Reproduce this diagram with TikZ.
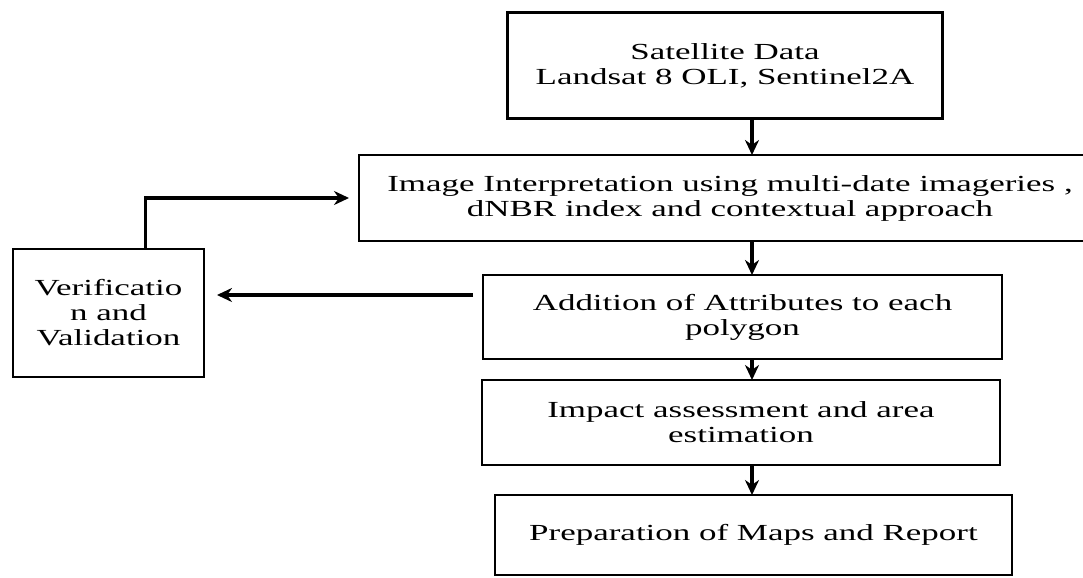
\documentclass[tikz,border=0pt]{standalone}
\usepackage{fontspec}
\setmainfont[FakeStretch=1.52]{Liberation Serif}
\usetikzlibrary{arrows.meta}
\begin{document}
\begin{tikzpicture}[x=0.5pt,y=-0.5pt,
		box/.style={draw,line width=1.3pt,align=center,inner sep=0pt,outer sep=0pt,font=\fontsize{11.5}{12.5}\selectfont},
		link/.style={line width=1.6pt,->},>={Stealth[length=7.5pt,width=7pt]}]
				\useasboundingbox (0,0) rectangle (1083,578);
				\node[box,minimum width=217.5pt,minimum height=53pt] (sat) at (725,65.5) {Satellite Data\\Landsat 8 OLI, Sentinel2A};
				\node[box,minimum width=371pt,minimum height=43pt] (interp) at (730,198) {Image Interpretation using multi-date imageries ,\\dNBR index and contextual approach};
				\node[box,minimum width=95.5pt,minimum height=64pt] (verif) at (108.5,313) {Verificatio\\n and\\Validation};
				\node[box,minimum width=259.5pt,minimum height=42pt] (addattr) at (742.5,317) {Addition of Attributes to each\\polygon};
				\node[box,minimum width=259pt,minimum height=42.5pt] (impact) at (741,422.5) {Impact assessment and area\\estimation};
				\node[box,minimum width=258.5pt,minimum height=40pt] (prep) at (753.5,535) {Preparation of Maps and Report};
				\coordinate (spine) at (752,0);
				\draw[link] (sat.south -| spine) -- (interp.north -| spine);
				\draw[link] (interp.south -| spine) -- (addattr.north -| spine);
				\draw[link] (addattr.south -| spine) -- (impact.north -| spine);
				\draw[link] (impact.south -| spine) -- (prep.north -| spine);
				\draw[link,shorten >=5pt] ([xshift=18.5pt]verif.north) |- (interp.west);
				\draw[link,shorten <=5pt,shorten >=6.5pt] ([yshift=11pt]addattr.west) -- ([yshift=11pt]addattr.west -| verif.east);
			\end{tikzpicture}
\end{document}
